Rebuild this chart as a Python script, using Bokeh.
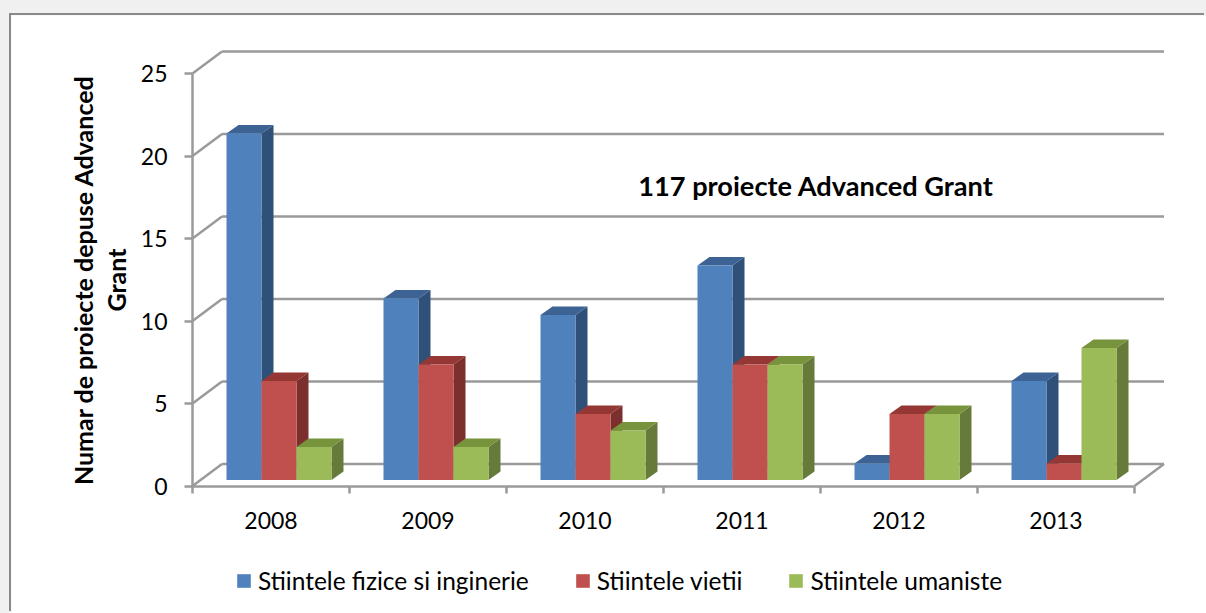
from bokeh.plotting import figure
from bokeh.models import (ColumnDataSource, FixedTicker, Label, Legend,
                          LegendItem, LinearAxis, Range1d)
from bokeh.embed import file_html
from bokeh.resources import INLINE

years = ["2008", "2009", "2010", "2011", "2012", "2013"]
fizice = [21, 11, 10, 13, 1, 6]
vietii = [6, 7, 4, 7, 4, 1]
umaniste = [2, 2, 3, 7, 4, 8]
y_ticks = [0, 5, 10, 15, 20, 25]
series_names = ["Stiintele fizice si inginerie", "Stiintele vietii", "Stiintele umaniste"]
y_title = "Numar de proiecte depuse Advanced\nGrant"
note = "117 proiecte Advanced Grant"

front_colors = ["#4F81BD", "#C0504D", "#9BBB59"]
top_colors = ["#3C6394", "#953735", "#77933C"]
side_colors = ["#2F5079", "#7B302E", "#667A3A"]
GRID = "#9A9A9A"
FONT = "Lato"

PX_X = 157.0      # px per category
PX_Y = 16.5       # px per unit
CARD_L, CARD_T = 11, 15
W, H = 1206, 613
LEFT, BASE = 192, 485.5

to_x = lambda px: px / PX_X
to_y = lambda px: px / PX_Y

WALL_DX, WALL_DY = to_x(29.5), to_y(22)
BAR_DX, BAR_DY = to_x(12), to_y(8.5)
BAR_W = to_x(35)
BAR_START = to_x(34)
BAR_BASE = to_y(6)

p = figure(width=W - CARD_L, height=H - CARD_T, output_backend="svg", toolbar_location=None,
           x_range=Range1d(to_x(CARD_L - LEFT), to_x(W - LEFT)),
           y_range=Range1d(to_y(BASE - H), to_y(BASE - CARD_T)),
           min_border=0, x_axis_location=None, y_axis_location=None,
           background_fill_color="white", border_fill_color="white")
p.margin = (CARD_T, 0, 0, CARD_L)
p.styles = {"box-shadow": "-2px -2px 0 #8A8A8A"}
p.outline_line_color = None
p.grid.visible = False

n = len(years)
for v in y_ticks:
    p.segment([0], [v], [WALL_DX], [v + WALL_DY], line_color=GRID, line_width=2.5)
    p.segment([WALL_DX], [v + WALL_DY], [n + WALL_DX], [v + WALL_DY], line_color=GRID, line_width=2.5)
p.segment([n], [0], [n + WALL_DX], [WALL_DY], line_color=GRID, line_width=2.5)

legend_items = []
for s, values in enumerate([fizice, vietii, umaniste]):
    x0 = [i + BAR_START + s * BAR_W for i in range(n)]
    x1 = [x + BAR_W for x in x0]
    top = [v + BAR_BASE for v in values]
    side_x = [[a, a + BAR_DX, a + BAR_DX, a] for a in x1]
    side_y = [[BAR_BASE, BAR_BASE + BAR_DY, t + BAR_DY, t] for t in top]
    top_x = [[a, a + BAR_DX, b + BAR_DX, b] for a, b in zip(x0, x1)]
    top_y = [[t, t + BAR_DY, t + BAR_DY, t] for t in top]
    p.patches(side_x, side_y, fill_color=side_colors[s], line_color=None)
    p.patches(top_x, top_y, fill_color=top_colors[s], line_color=None)
    src = ColumnDataSource(dict(left=x0, right=x1, top=top, bottom=[BAR_BASE] * n))
    r = p.quad(left="left", right="right", top="top", bottom="bottom", source=src,
               fill_color=front_colors[s], line_color=None)
    legend_items.append(LegendItem(label=series_names[s], renderers=[r]))

yaxis = LinearAxis(ticker=FixedTicker(ticks=y_ticks), bounds=(0, 25), fixed_location=0,
                   axis_label=y_title, axis_label_text_font=FONT,
                   axis_label_text_font_style="bold", axis_label_text_font_size="25px",
                   axis_label_text_color="black", axis_label_standoff=7,
                   axis_label_text_line_height=1.1,
                   major_label_text_font=FONT, major_label_text_font_size="23px",
                   major_label_text_color="black", major_label_standoff=17,
                   major_tick_in=0, major_tick_out=8, minor_tick_in=0, minor_tick_out=0,
                   axis_line_color=GRID, axis_line_width=2.5,
                   major_tick_line_color=GRID, major_tick_line_width=2.5)
p.add_layout(yaxis, "left")

centers = [i + 0.5 for i in range(n)]
xaxis = LinearAxis(ticker=FixedTicker(ticks=centers, minor_ticks=list(range(n + 1))),
                   bounds=(0, n), fixed_location=0,
                   major_label_overrides={c: y for c, y in zip(centers, years)},
                   major_label_text_font=FONT, major_label_text_font_size="23px",
                   major_label_text_color="black", major_label_standoff=19,
                   major_tick_in=0, major_tick_out=0, minor_tick_in=0, minor_tick_out=7,
                   axis_line_color=GRID, axis_line_width=2.5,
                   minor_tick_line_color=GRID, minor_tick_line_width=2.5)
p.add_layout(xaxis, "below")

p.add_layout(Label(x=to_x(815.5 - LEFT), y=to_y(BASE - 185), text=note,
                   text_font=FONT, text_font_style="bold", text_font_size="27.2px",
                   text_color="black", text_align="center", text_baseline="middle"))

legend = Legend(items=legend_items, orientation="horizontal",
                location=(235 - CARD_L, H - 595),
                glyph_width=17, glyph_height=17, label_standoff=6, spacing=45,
                padding=0, margin=0, border_line_color=None,
                background_fill_alpha=0,
                label_text_font=FONT, label_text_font_size="24.5px", label_text_color="black")
p.add_layout(legend, "center")

html = file_html(p, INLINE)
html = html.replace("<head>", "<head><style>html,body{margin:0;background:#F0F0F0;overflow:hidden}</style>", 1)
open("out.html", "w").write(html)
